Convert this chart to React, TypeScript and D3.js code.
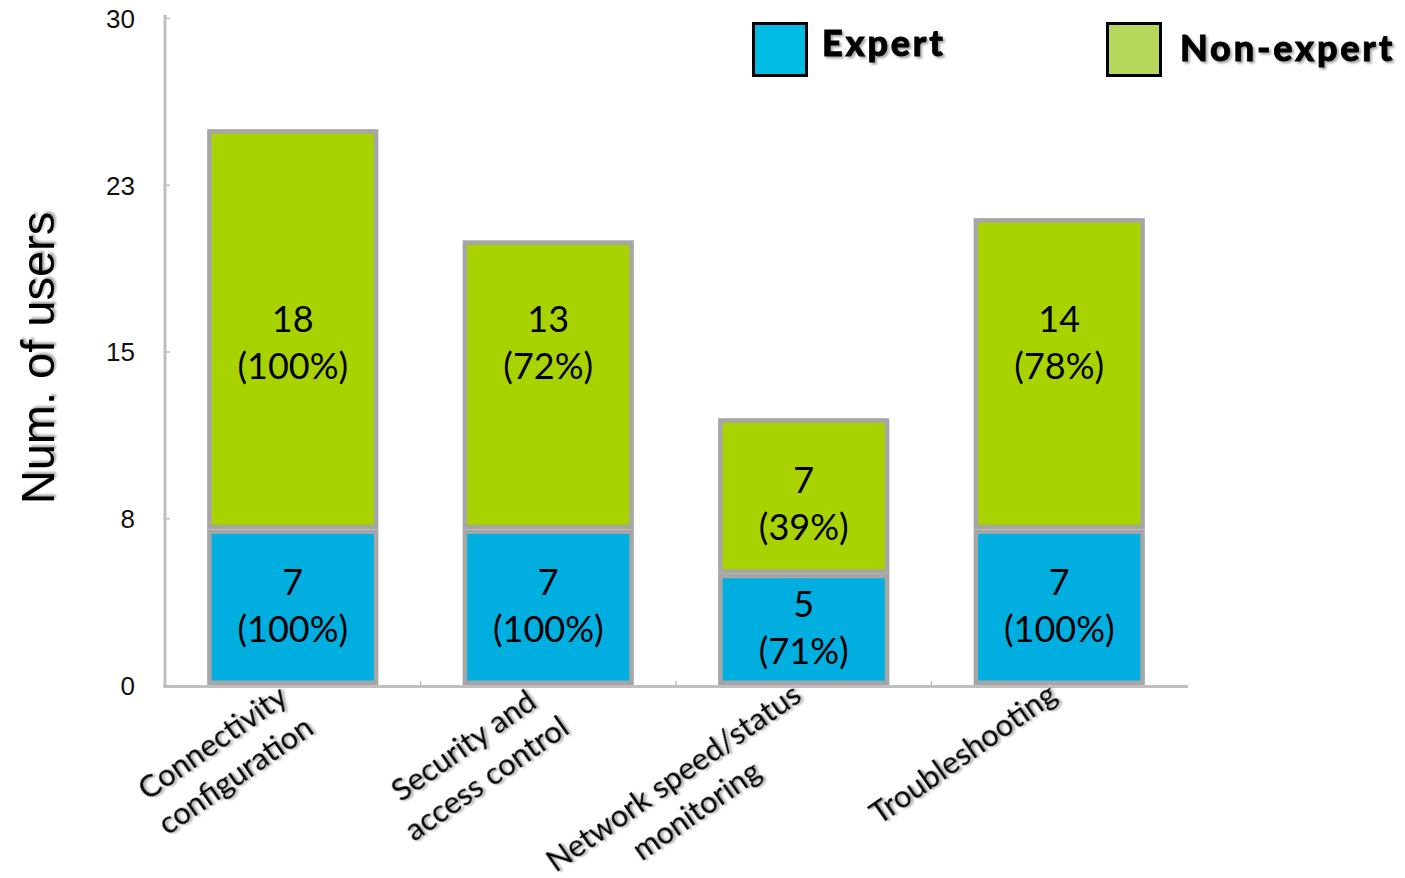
import React, { useEffect, useRef } from "react";
import * as d3 from "d3";

// ---------- data ----------
const categories = [
  "Connectivity configuration",
  "Security and access control",
  "Network speed/status monitoring",
  "Troubleshooting",
];
const categoryLines = [
  ["Connectivity", "configuration"],
  ["Security and", "access control"],
  ["Network speed/status", "monitoring"],
  ["Troubleshooting"],
];
const expertValues = [7, 7, 5, 7];
const expertPct = ["100%", "100%", "71%", "100%"];
const nonExpertValues = [18, 13, 7, 14];
const nonExpertPct = ["100%", "72%", "39%", "78%"];
const yTickValues = [0, 7.5, 15, 22.5, 30];
const yTickLabels = ["0", "8", "15", "23", "30"];
const seriesNames = ["Expert", "Non-expert"];
const yTitle = "Num. of users";

// ---------- style ----------
const W = 1405;
const H = 878;
const BAR_BLUE = "#00aedf";
const BAR_GREEN = "#a9d300";
const LEG_BLUE = "#00bce4";
const LEG_GREEN = "#b3d65b";
const BAR_BORDER = "#a6a6a6";
const AXIS = "#bfbfbf";
const HUMANIST = "Lato, 'Open Sans', sans-serif";
const GROTESK = "'Liberation Sans', Arial, sans-serif";
const NONEXPERT_LABEL_LEVEL = 15.4;

export default function App() {
  const ref = useRef<SVGSVGElement | null>(null);

  useEffect(() => {
    const svg = d3.select(ref.current);
    svg.selectAll("*").remove();

    const defs = svg.append("defs");
    const f = defs
      .append("filter")
      .attr("id", "shadow")
      .attr("x", "-10%")
      .attr("y", "-10%")
      .attr("width", "130%")
      .attr("height", "130%");
    f.append("feDropShadow")
      .attr("dx", 2)
      .attr("dy", 2)
      .attr("stdDeviation", 1.2)
      .attr("flood-color", "#000")
      .attr("flood-opacity", 0.35);

    const x = d3
      .scaleBand<string>()
      .domain(categories)
      .range([165, 1187])
      .paddingInner(0.33)
      .paddingOuter(0.165);
    const y = d3.scaleLinear().domain([0, 30]).range([685, 18]);

    // y axis
    const yAxis = d3
      .axisLeft(y)
      .tickValues(yTickValues)
      .tickFormat((_d, i) => yTickLabels[i])
      .tickSize(-5)
      .tickPadding(30);
    const gy = svg.append("g").attr("transform", "translate(165,0)").call(yAxis as any);
    gy.select(".domain").remove();
    gy.selectAll(".tick line").attr("stroke", AXIS).attr("stroke-width", 1.5);
    gy.selectAll(".tick text")
      .attr("font-family", GROTESK)
      .attr("font-size", 26)
      .attr("fill", "#111")
      .attr("dy", "0.36em");

    svg
      .append("line")
      .attr("x1", 165)
      .attr("x2", 165)
      .attr("y1", 15)
      .attr("y2", 688)
      .attr("stroke", AXIS)
      .attr("stroke-width", 3);

    // x axis
    svg
      .append("line")
      .attr("x1", 163.5)
      .attr("x2", 1188)
      .attr("y1", 686.5)
      .attr("y2", 686.5)
      .attr("stroke", AXIS)
      .attr("stroke-width", 3);
    const step = x.step();
    const [r0] = x.range();
    d3.range(1, categories.length).forEach((i) => {
      svg
        .append("line")
        .attr("x1", r0 + i * step)
        .attr("x2", r0 + i * step)
        .attr("y1", 681)
        .attr("y2", 686)
        .attr("stroke", AXIS)
        .attr("stroke-width", 1.5);
    });

    // bars
    const sw = 4.5;
    const bw = x.bandwidth();
    const seg = (x0: number, v0: number, v1: number, fill: string) => {
      const yt = y(v1);
      const yb = y(v0);
      svg
        .append("rect")
        .attr("x", x0 + sw / 2)
        .attr("y", yt + sw / 2)
        .attr("width", bw - sw)
        .attr("height", yb - yt - sw)
        .attr("fill", fill)
        .attr("stroke", BAR_BORDER)
        .attr("stroke-width", sw);
    };
    const label = (cx: number, cy: number, a: string, b: string) => {
      const t = svg
        .append("text")
        .attr("text-anchor", "middle")
        .attr("font-family", HUMANIST)
        .attr("font-size", 36)
        .attr("fill", "#000");
      t.append("tspan").attr("x", cx).attr("y", cy - 23.5).attr("dy", "0.36em").text(a);
      t.append("tspan").attr("x", cx).attr("y", cy + 23.5).attr("dy", "0.36em").text(b);
    };

    categories.forEach((c, i) => {
      const x0 = x(c)!;
      const cx = x0 + bw / 2;
      const e = expertValues[i];
      const n = nonExpertValues[i];
      seg(x0, 0, e, BAR_BLUE);
      seg(x0, e, e + n, BAR_GREEN);
      label(cx, y(e / 2) - 2, String(e), `(${expertPct[i]})`);
      const inRange =
        NONEXPERT_LABEL_LEVEL > e + 2 && NONEXPERT_LABEL_LEVEL < e + n - 2;
      const lvl = inRange ? NONEXPERT_LABEL_LEVEL : e + n / 2;
      label(cx, y(lvl) + (inRange ? 0 : 8), String(n), `(${nonExpertPct[i]})`);
    });

    // category labels (rotated, centred lines)
    const angle = -35;
    const lh = 40;
    categories.forEach((c, i) => {
      const cx = x(c)! + bw / 2;
      const g = svg
        .append("g")
        .attr("transform", `translate(${cx},686) rotate(${angle})`);
      const texts = categoryLines[i].map((ln) =>
        g
          .append("text")
          .attr("font-family", HUMANIST)
          .attr("font-size", 31)
          .attr("fill", "#000")
          .attr("text-anchor", "middle")
          .attr("filter", "url(#shadow)")
          .text(ln)
      );
      const widths = texts.map((t) => (t.node() as SVGTextElement).getComputedTextLength());
      const maxW = d3.max(widths) || 0;
      texts.forEach((t, j) => {
        t.attr("x", -8 - maxW / 2).attr("y", j * lh).attr("dy", "0.36em");
      });
    });

    // y title
    svg
      .append("text")
      .attr("transform", "translate(54,358) rotate(-90)")
      .attr("text-anchor", "middle")
      .attr("font-family", GROTESK)
      .attr("font-size", 47)
      .attr("fill", "#000")
      .attr("filter", "url(#shadow)")
      .text(yTitle);

    // legend
    const legend = [
      { name: seriesNames[0], fill: LEG_BLUE, bx: 752, tx: 822, ty: 56 },
      { name: seriesNames[1], fill: LEG_GREEN, bx: 1106, tx: 1180, ty: 61 },
    ];
    legend.forEach((l) => {
      svg
        .append("rect")
        .attr("x", l.bx + 1.5)
        .attr("y", 23.5)
        .attr("width", 53)
        .attr("height", 52)
        .attr("fill", l.fill)
        .attr("stroke", "#000")
        .attr("stroke-width", 3);
      svg
        .append("text")
        .attr("x", l.tx)
        .attr("y", l.ty)
        .attr("font-family", HUMANIST)
        .attr("font-weight", 900)
        .attr("font-size", 36)
        .attr("letter-spacing", 2.8)
        .attr("fill", "#000")
        .attr("stroke", "#000")
        .attr("stroke-width", 0.8)
        .attr("filter", "url(#shadow)")
        .text(l.name);
    });
  }, []);

  return (
    <svg
      ref={ref}
      width={W}
      height={H}
      style={{ position: "absolute", left: 0, top: 0, background: "#fff" }}
    />
  );
}
